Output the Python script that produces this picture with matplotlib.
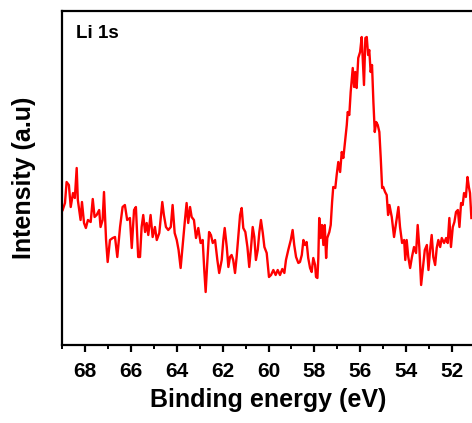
import matplotlib
matplotlib.use("Agg")
import matplotlib.pyplot as plt
from matplotlib.ticker import MultipleLocator

# Binding energy (eV) and intensity (a.u.)
energy = [
    68.97, 68.87, 68.80, 68.70, 68.62, 68.52, 68.44, 68.36, 68.31, 68.19, 68.13, 68.04, 67.96, 67.87,
    67.75, 67.66, 67.58, 67.49, 67.38, 67.32, 67.23, 67.17, 67.08, 67.01, 66.91, 66.79, 66.69, 66.59,
    66.47, 66.36, 66.26, 66.16, 66.04, 65.96, 65.86, 65.78, 65.68,
    65.60, 65.53, 65.46, 65.38, 65.31, 65.24, 65.14, 65.05, 64.95, 64.87, 64.76, 64.63, 64.56, 64.47,
    64.37, 64.26, 64.18, 64.09, 64.00, 63.92, 63.83, 63.74, 63.65, 63.57, 63.50, 63.42, 63.35, 63.25,
    63.16, 63.06, 62.96, 62.87, 62.80, 62.74, 62.67, 62.59, 62.51, 62.43, 62.33, 62.23, 62.15,
    62.04, 61.97, 61.91, 61.82, 61.75, 61.68, 61.61, 61.54, 61.46, 61.39, 61.32, 61.24, 61.17, 61.10,
    61.01, 60.92, 60.84, 60.76, 60.69, 60.62, 60.55, 60.47, 60.40, 60.33, 60.25, 60.18, 60.08, 59.98,
    59.89, 59.79, 59.69, 59.60, 59.50, 59.40, 59.31, 59.24, 59.14, 59.03, 58.95, 58.88, 58.80, 58.70,
    58.63,
    58.55, 58.48, 58.41, 58.34, 58.27, 58.19, 58.12, 58.05, 57.97, 57.93, 57.87, 57.83, 57.79, 57.73,
    57.67, 57.61, 57.55, 57.49, 57.44, 57.35, 57.29, 57.23, 57.18, 57.09, 57.03, 56.96, 56.88, 56.81,
    56.74, 56.67, 56.59, 56.55, 56.48, 56.42, 56.33, 56.27, 56.22, 56.16, 56.09, 56.01, 55.94, 55.89,
    55.84, 55.78, 55.72, 55.66, 55.61, 55.55, 55.49, 55.43, 55.37, 55.31, 55.24, 55.17, 55.11, 55.05,
    55.00, 54.92, 54.85, 54.79, 54.73,
    54.63, 54.53, 54.44, 54.34, 54.27, 54.18, 54.09, 54.04, 53.98, 53.91, 53.83, 53.75, 53.66, 53.57,
    53.50, 53.43, 53.35, 53.28, 53.19, 53.10, 53.03, 52.96, 52.89, 52.82, 52.74, 52.67, 52.60, 52.52,
    52.45, 52.35, 52.26, 52.19, 52.12, 52.05, 51.97, 51.90, 51.83, 51.75, 51.68, 51.61, 51.54, 51.48,
    51.40, 51.33, 51.27, 51.22, 51.16,
]
intensity = [
    135, 142, 163, 160, 138, 152, 147, 177, 145, 125, 143, 122, 117, 125,
    123, 146, 128, 130, 135, 118, 125, 153, 105, 83, 105, 107, 108, 88,
    118, 138, 140, 125, 127, 97, 135, 138, 88,
    88, 118, 130, 113, 122, 110, 130, 108, 118, 105, 112, 143, 130, 118,
    115, 118, 140, 112, 105, 95, 77, 100, 123, 142, 122, 138, 128, 125,
    107, 117, 102, 105, 75, 53, 82, 113, 110, 102, 105, 85, 72,
    85, 105, 117, 98, 78, 88, 90, 85, 72, 88, 108, 130, 137, 117,
    113, 98, 78, 98, 118, 108, 85, 95, 113, 125, 112, 98, 92, 68,
    70, 75, 70, 75, 70, 76, 72, 85, 95, 105, 115, 100, 88, 82,
    83,
    90, 105, 100, 103, 87, 77, 73, 87, 80, 68, 67, 87, 127, 107,
    120, 100, 120, 87, 107, 113, 120, 143, 158, 157, 170, 183, 173, 193,
    187, 202, 220, 233, 230, 253, 277, 258, 273, 257, 287, 293, 308, 283,
    260, 307, 308, 290, 295, 273, 280, 243, 213, 223, 220, 213, 187, 157,
    158, 153, 150, 130, 140,
    128, 108, 122, 138, 118, 102, 105, 85, 105, 88, 77, 88, 98, 92,
    120, 98, 60, 75, 95, 100, 75, 95, 110, 88, 80, 97, 105, 98,
    107, 102, 107, 102, 127, 98, 118, 123, 133, 135, 118, 142, 140, 152,
    148, 168, 158, 152, 127,
]
x_ticks = [68, 66, 64, 62, 60, 58, 56, 54, 52]
x_label = "Binding energy (eV)"
y_label = "Intensity (a.u)"
panel_label = "Li 1s"

plt.rcParams['font.family'] = ['Liberation Sans', 'DejaVu Sans']
plt.rcParams['font.weight'] = 'bold'

fig = plt.figure(figsize=(4.72, 4.23), dpi=100)
ax = fig.add_axes([62 / 472, 1 - 345 / 423, (498 - 62) / 472, (345 - 11) / 423])
ax.plot(energy, intensity, color='#ff0000', linewidth=1.7)
ax.set_xlim(69, 50)
ax.set_ylim(0, 334)
ax.set_xticks(x_ticks)
ax.xaxis.set_minor_locator(MultipleLocator(1))
ax.set_yticks([])
for s in ax.spines.values():
    s.set_linewidth(1.6)
ax.tick_params(axis='x', which='major', direction='out', length=5, width=1.6,
               labelsize=15, pad=7)
ax.tick_params(axis='x', which='minor', direction='out', length=3, width=1.4)
for lab in ax.get_xticklabels():
    lab.set_fontweight('bold')
ax.set_xlabel(x_label, fontsize=18, fontweight='bold')
ax.xaxis.set_label_coords((268 - 62) / (498 - 62), -0.13)
ax.set_ylabel(y_label, fontsize=18, fontweight='bold')
ax.yaxis.set_label_coords(-0.06, 0.5)
ax.text(76 / 472, 1 - 38 / 423, panel_label, transform=fig.transFigure,
        fontsize=13.5, fontweight='bold', ha='left', va='baseline')
fig.savefig("out.png", dpi=100)
